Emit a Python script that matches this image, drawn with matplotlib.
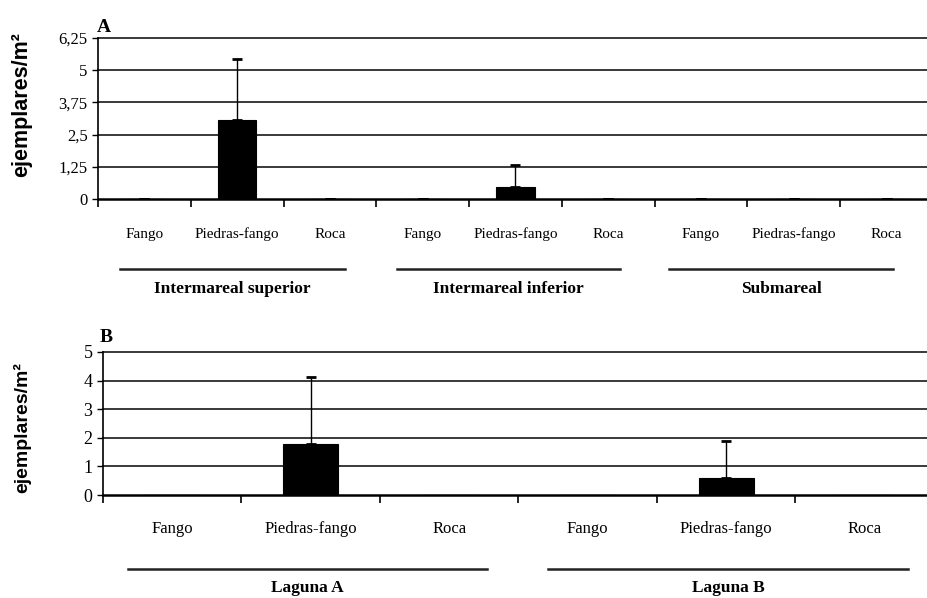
import matplotlib
matplotlib.use("Agg")
import matplotlib.pyplot as plt
import numpy as np

# Panel A: intertidal / subtidal zones
zones_a = ["Intermareal superior", "Intermareal inferior", "Submareal"]
substrates = ["Fango", "Piedras-fango", "Roca"]
mean_a = [0, 3.05, 0, 0, 0.47, 0, 0, 0, 0]
err_a = [0, 2.40, 0, 0, 0.85, 0, 0, 0, 0]
yticks_a = [0, 1.25, 2.5, 3.75, 5, 6.25]
ytick_labels_a = ["0", "1,25", "2,5", "3,75", "5", "6,25"]

# Panel B: lagoons
zones_b = ["Laguna A", "Laguna B"]
mean_b = [0, 1.78, 0, 0, 0.60, 0]
err_b = [0, 2.34, 0, 0, 1.28, 0]
yticks_b = [0, 1, 2, 3, 4, 5]
ytick_labels_b = ["0", "1", "2", "3", "4", "5"]

SERIF = "Liberation Serif"
SANS = "Liberation Sans"
PX = 0.72  # points per pixel at 100 dpi

W, H = 928, 598
fig = plt.figure(figsize=(W / 100, H / 100), dpi=100)
fig.patch.set_facecolor("white")


def draw_panel(ax, means, errs, yticks, ylabels, zones, bar_width, ymax,
               show_zero_caps, tick_fs, cat_fs, cat_base, grp_base,
               group_lines):
    n = len(means)
    x = np.arange(n) + 0.5
    ax.bar(x, means, width=bar_width, color="black", edgecolor="black",
           linewidth=0.8, zorder=3)
    if show_zero_caps:
        idx = np.arange(n)
    else:
        idx = np.array([i for i in range(n) if errs[i] > 0])
    ax.errorbar(x[idx], np.array(means)[idx],
                yerr=[np.zeros(len(idx)), np.array(errs)[idx]],
                fmt="none", ecolor="black", elinewidth=1.0,
                capsize=3.6, capthick=2.0, zorder=4)

    ax.set_xlim(0, n)
    ax.set_ylim(0, ymax)
    ax.set_yticks(yticks)
    ax.set_yticklabels(ylabels, fontfamily=SERIF, fontsize=tick_fs)
    ax.set_xticks(np.arange(n + 1))
    ax.set_xticklabels([])
    ax.tick_params(axis="x", direction="out", length=6, width=1.2,
                   color="black")
    ax.tick_params(axis="y", direction="out", length=4.5, width=1.0,
                   color="black", pad=3)

    for y in yticks[1:]:
        ax.axhline(y, color="#2a2a2a", linewidth=1.3, zorder=1,
                   clip_on=False)

    for s in ["top", "right"]:
        ax.spines[s].set_visible(False)
    ax.spines["left"].set_linewidth(1.2)
    ax.spines["bottom"].set_linewidth(1.8)

    # substrate labels under each category
    for i in range(n):
        ax.annotate(substrates[i % 3], xy=(x[i], 0),
                    xycoords=("data", "axes fraction"),
                    xytext=(0, -cat_base * PX), textcoords="offset points",
                    ha="center", va="baseline", fontfamily=SERIF,
                    fontsize=cat_fs, annotation_clip=False)

    # zone names centred under their underline
    for (x0, x1), name in zip(group_lines, zones):
        xm = 0.5 * (x0 + x1)
        ax.annotate(name, xy=(xm, 0), xycoords=("data", "axes fraction"),
                    xytext=(0, -grp_base * PX), textcoords="offset points",
                    ha="center", va="baseline", fontfamily=SERIF,
                    fontweight="bold", fontsize=12.5, annotation_clip=False)


def draw_underlines(ax, group_lines, line_off):
    inv = fig.transFigure.inverted()
    y_px = ax.transAxes.transform((0, 0))[1] - line_off
    for x0, x1 in group_lines:
        p0 = ax.transData.transform((x0, 0))[0]
        p1 = ax.transData.transform((x1, 0))[0]
        f0 = inv.transform((p0, y_px))
        f1 = inv.transform((p1, y_px))
        fig.add_artist(plt.Line2D([f0[0], f1[0]], [f0[1], f1[1]],
                                  color="#222222", linewidth=1.8))


# ---- Panel A ----
axA = fig.add_axes([98 / W, 1 - 199 / H, 835 / W, 161 / H])
lines_a = [(0.237, 2.663), (3.224, 5.628), (6.156, 8.571)]
draw_panel(axA, mean_a, err_a, yticks_a, ytick_labels_a, zones_a,
           bar_width=0.41, ymax=6.25, show_zero_caps=True, tick_fs=12,
           cat_fs=11, cat_base=39, grp_base=94, group_lines=lines_a)

# ---- Panel B ----
axB = fig.add_axes([103 / W, 1 - 495 / H, 831 / W, 143 / H])
lines_b = [(0.18, 2.773), (3.213, 5.812)]
draw_panel(axB, mean_b, err_b, yticks_b, ytick_labels_b, zones_b,
           bar_width=0.40, ymax=5, show_zero_caps=False, tick_fs=13,
           cat_fs=12, cat_base=38, grp_base=97, group_lines=lines_b)

fig.canvas.draw()
draw_underlines(axA, lines_a, 70)
draw_underlines(axB, lines_b, 74)

# panel letters
fig.text(97 / W, 1 - 27 / H, "A", fontfamily=SERIF, fontweight="bold",
         fontsize=14, ha="left", va="center")
fig.text(100 / W, 1 - 338 / H, "B", fontfamily=SERIF, fontweight="bold",
         fontsize=14, ha="left", va="center")

# y-axis titles
fig.text(22 / W, 1 - 105 / H, "ejemplares/m²", fontfamily=SANS,
         fontweight="bold", fontsize=15.5, rotation=90, ha="center",
         va="center")
fig.text(22 / W, 1 - 428 / H, "ejemplares/m²", fontfamily=SANS,
         fontweight="bold", fontsize=14, rotation=90, ha="center",
         va="center")

fig.savefig("out.png", dpi=100, facecolor="white")
